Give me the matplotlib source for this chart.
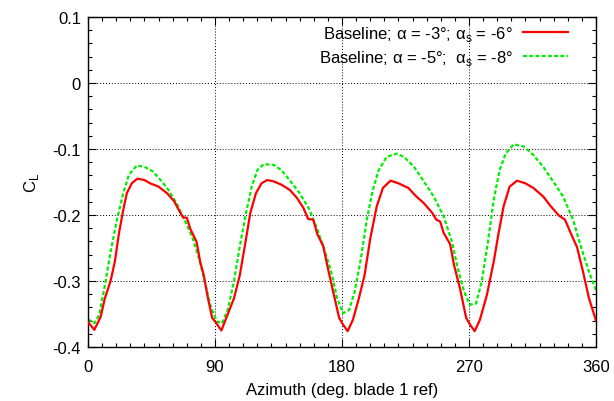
import matplotlib
matplotlib.use("Agg")
from matplotlib import pyplot as plt
from matplotlib.ticker import MultipleLocator

# azimuth (deg) and lift coefficient
az_a = [0, 4.5, 9, 12, 16, 19, 22, 25, 27.5, 31, 35, 40, 44, 50, 56, 61, 65.5,
        67.5, 70, 72.5, 77, 79.5, 82, 85, 88, 91, 94.5, 98, 103.5, 107.6, 112,
        115, 119, 123, 127, 131.5, 137, 143, 148, 152.6, 156, 159.6, 162.5,
        166.7, 169.5, 173.7, 178, 180.7, 184, 187.7, 192, 196, 200, 204.6, 209,
        214.4, 220, 227, 232.7, 238, 244, 246.8, 249.6, 252, 256.6, 259.4,
        263.6, 268, 270.7, 274, 277.7, 282.7, 287.5, 291, 294.5, 298.8, 304,
        310, 315.6, 322.6, 328, 333.8, 338, 342, 346.6, 350.8, 355, 360]
cl_a = [-0.362, -0.374, -0.354, -0.326, -0.300, -0.271, -0.227, -0.192, -0.167,
        -0.152, -0.145, -0.147, -0.152, -0.157, -0.167, -0.179, -0.197, -0.204,
        -0.204, -0.221, -0.241, -0.271, -0.291, -0.326, -0.356, -0.364, -0.375,
        -0.356, -0.326, -0.291, -0.236, -0.197, -0.167, -0.152, -0.147, -0.149,
        -0.154, -0.162, -0.174, -0.189, -0.206, -0.207, -0.229, -0.247, -0.276,
        -0.316, -0.356, -0.366, -0.376, -0.359, -0.326, -0.291, -0.236, -0.187,
        -0.159, -0.148, -0.152, -0.159, -0.172, -0.182, -0.197, -0.207, -0.210,
        -0.227, -0.244, -0.276, -0.311, -0.356, -0.366, -0.376, -0.359, -0.321,
        -0.271, -0.227, -0.187, -0.157, -0.148, -0.152, -0.159, -0.172, -0.187,
        -0.201, -0.207, -0.227, -0.249, -0.286, -0.326, -0.360]

az_b = [0, 4.5, 8, 12, 16, 20.5, 25, 29, 34.6, 40, 46, 51.4, 57, 62.7, 68.3,
        74, 78, 82.3, 86.6, 91, 95, 99, 103.4, 107.6, 112, 116, 120, 124.5,
        131.5, 137, 142.8, 150, 157, 162.5, 168, 172.4, 176.5, 180.7, 185, 189,
        193.4, 197.6, 201.8, 206, 211.6, 218.7, 224, 231, 238, 245, 252, 258,
        262, 266.5, 270.7, 275, 279, 283.4, 287.5, 291.7, 296, 301.6, 308.6,
        315.6, 322.6, 329.6, 336.7, 343.7, 349, 355, 360]
cl_b = [-0.358, -0.364, -0.351, -0.306, -0.256, -0.207, -0.167, -0.139, -0.125,
        -0.127, -0.134, -0.147, -0.162, -0.182, -0.207, -0.234, -0.261, -0.296,
        -0.336, -0.361, -0.364, -0.344, -0.301, -0.247, -0.197, -0.157, -0.132,
        -0.123, -0.124, -0.132, -0.147, -0.167, -0.192, -0.222, -0.256, -0.286,
        -0.326, -0.349, -0.344, -0.316, -0.266, -0.207, -0.162, -0.132, -0.112,
        -0.107, -0.112, -0.127, -0.149, -0.172, -0.202, -0.241, -0.281, -0.316,
        -0.336, -0.334, -0.301, -0.241, -0.177, -0.132, -0.107, -0.093, -0.096,
        -0.109, -0.127, -0.149, -0.172, -0.207, -0.246, -0.286, -0.314]

label_a = r"Baseline; α = -3°; α$_\mathrm{s}$ = -6°"
label_b = r"Baseline; α = -5°;  α$_\mathrm{s}$ = -8°"

plt.rcParams["font.family"] = ["Liberation Sans", "DejaVu Sans"]
plt.rcParams["mathtext.fontset"] = "custom"
plt.rcParams["mathtext.rm"] = "Liberation Sans"
plt.rcParams["font.size"] = 12
plt.rcParams["axes.unicode_minus"] = False

fig = plt.figure(figsize=(6.14, 4.02), dpi=100)
ax = fig.add_axes([88 / 614, 1 - 348 / 402, 508 / 614, 330 / 402])

ax.plot(az_a, cl_a, color="#ff0000", lw=1.6, label=label_a, zorder=3)
ax.plot(az_b, cl_b, color="#00ee00", lw=1.6, ls=(0, (1.8, 1)), label=label_b,
        zorder=2)

ax.set_xlim(0, 360)
ax.set_ylim(-0.4, 0.1)
ax.xaxis.set_major_locator(MultipleLocator(90))
ax.xaxis.set_minor_locator(MultipleLocator(10))
ax.yaxis.set_major_locator(MultipleLocator(0.1))
ax.yaxis.set_minor_locator(MultipleLocator(0.02))
ax.yaxis.set_major_formatter(
    plt.FuncFormatter(lambda v, _: "0" if abs(v) < 1e-9 else f"{v:.1f}"))
ax.tick_params(which="both", direction="in", top=True, right=True, labelsize=12)
ax.tick_params(axis="x", pad=8.5)
ax.tick_params(axis="y", pad=5)
ax.tick_params(which="major", length=6, width=0.8)
ax.tick_params(which="minor", length=3, width=0.8)
ax.grid(which="major", color="black", ls=(0, (1, 2)), lw=0.7)
for s in ax.spines.values():
    s.set_linewidth(1.0)

ax.set_xlabel("Azimuth (deg. blade 1 ref)", labelpad=6)
ax.set_ylabel(r"C$_\mathrm{L}$", labelpad=8)

ax.legend(loc="upper right", bbox_to_anchor=(0.945, 0.978), frameon=False,
          markerfirst=False, handlelength=2.7, handletextpad=0.6,
          labelspacing=0.27, borderaxespad=0, borderpad=0, fontsize=12)

fig.savefig("out.png", dpi=100)
